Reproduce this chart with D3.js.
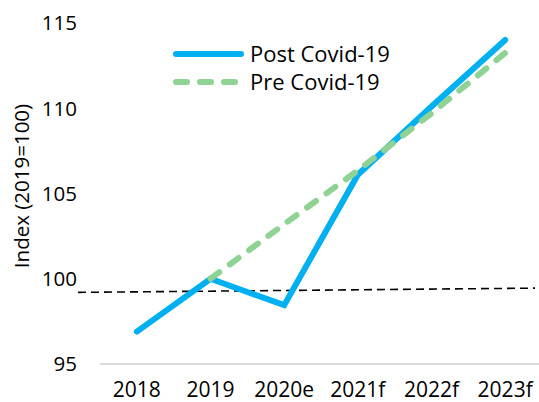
<!DOCTYPE html>
<html>
<head>
<meta charset="utf-8">
<script src="https://cdn.jsdelivr.net/npm/d3@7"></script>
<style>
	body { margin: 0; background: #fff; }
	text { font-family: "Open Sans", Lato, sans-serif; fill: #000; }
</style>
</head>
<body>
<div id="chart"></div>
<script>

	var years = ["2018", "2019", "2020e", "2021f", "2022f", "2023f"]
	var postCovid = [96.9, 100, 98.45, 106.1, 110.1, 114.0]
	var preCovid = [null, 100, 103.2, 106.35, 109.7, 113.25]
	var yTicks = [95, 100, 105, 110, 115]
	// dashed reference line, value at left and right edge of plot
	var refLine = [99.2, 99.45]

	var width = 539, height = 402

	var svg = d3.select("#chart").append("svg")
		.attr("width", width)
		.attr("height", height)

	var x = d3.scaleBand().domain(years).range([100, 542])
	var y = d3.scaleLinear().domain([95, 115]).range([364, 23])

	function cx(d) { return x(d) + x.bandwidth() / 2 }

	// baseline
	svg.append("line")
		.attr("x1", 100).attr("x2", 540)
		.attr("y1", y(95)).attr("y2", y(95))
		.attr("stroke", "#d9d9d9")
		.attr("stroke-width", 2)

	// y axis labels
	svg.selectAll(".ytick")
		.data(yTicks)
		.enter().append("text")
		.attr("class", "ytick")
		.attr("x", 77)
		.attr("y", function(d) { return y(d) })
		.attr("dy", "0.36em")
		.attr("text-anchor", "end")
		.style("font-size", "20.5px")
		.text(function(d) { return d })

	// x axis labels
	svg.selectAll(".xtick")
		.data(years)
		.enter().append("text")
		.attr("class", "xtick")
		.attr("x", function(d) { return cx(d) })
		.attr("y", 389)
		.attr("dy", "0.36em")
		.attr("text-anchor", "middle")
		.style("font-size", "21px")
		.text(function(d) { return d })

	svg.append("text")
		.attr("transform", "translate(22," + 186 + ") rotate(-90)")
		.attr("text-anchor", "middle")
		.attr("dy", "0.36em")
		.style("font-size", "20.5px")
		.text("Index (2019=100)")

	// reference line
	svg.append("line")
		.attr("x1", 78).attr("x2", 535)
		.attr("y1", y(refLine[0])).attr("y2", y(refLine[1]))
		.attr("stroke", "#000")
		.attr("stroke-width", 1.6)
		.attr("stroke-dasharray", "8,5")

	var line = d3.line()
		.defined(function(d) { return d.v != null })
		.x(function(d) { return cx(d.year) })
		.y(function(d) { return y(d.v) })

	var postData = years.map(function(d, i) { return {year: d, v: postCovid[i]} })
	var preData = years.map(function(d, i) { return {year: d, v: preCovid[i]} })

	svg.append("path")
		.datum(postData)
		.attr("d", line)
		.attr("fill", "none")
		.attr("stroke", "#00b0f0")
		.attr("stroke-width", 6)
		.attr("stroke-linecap", "round")

	svg.append("path")
		.datum(preData)
		.attr("d", line)
		.attr("fill", "none")
		.attr("stroke", "#8fd294")
		.attr("stroke-width", 6)
		.attr("stroke-linecap", "round")
		.attr("stroke-dasharray", "11,13")

	// legend
	var legend = [
		{name: "Post Covid-19", color: "#00b0f0", dash: null, y: 54},
		{name: "Pre Covid-19", color: "#8fd294", dash: "11,13", y: 82}
	]

	legend.forEach(function(l) {
		svg.append("line")
			.attr("x1", 176).attr("x2", 241)
			.attr("y1", l.y).attr("y2", l.y)
			.attr("stroke", l.color)
			.attr("stroke-width", 6)
			.attr("stroke-linecap", "round")
			.attr("stroke-dasharray", l.dash)
		svg.append("text")
			.attr("x", 250)
			.attr("y", l.y)
			.attr("dy", "0.36em")
			.style("font-size", "22px")
			.text(l.name)
	})

</script>
</body>
</html>
